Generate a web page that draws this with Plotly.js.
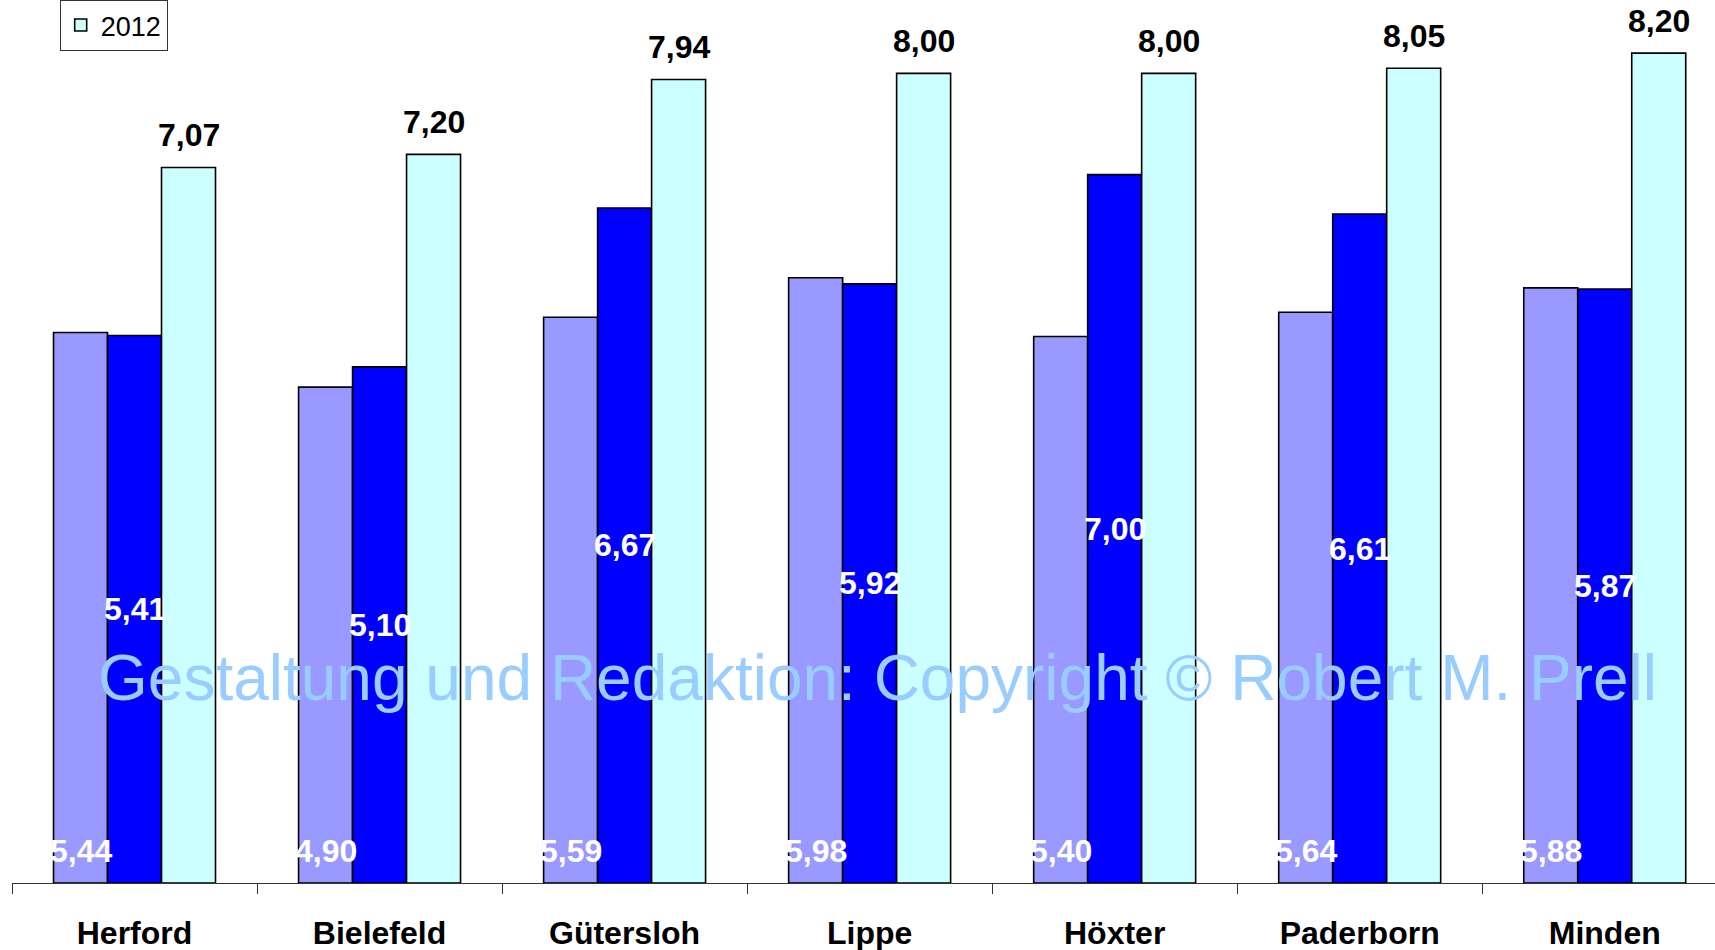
<!DOCTYPE html>
<html>
<head>
<meta charset="utf-8">
<script src="https://cdn.plot.ly/plotly-3.0.1.min.js"></script>
<style>html,body{margin:0;padding:0;background:#fff;}#chart{width:1715px;height:950px;}</style>
</head>
<body>
<div id="chart"></div>
<script>
const categories = ["Herford", "Bielefeld", "Gütersloh", "Lippe", "Höxter", "Paderborn", "Minden"];
const seriesNames = ["Reihe 1", "Reihe 2", "2012"];
const values1 = [5.44, 4.90, 5.59, 5.98, 5.40, 5.64, 5.88];
const values2 = [5.41, 5.10, 6.67, 5.92, 7.00, 6.61, 5.87];
const values3 = [7.07, 7.20, 7.94, 8.00, 8.00, 8.05, 8.20];
const watermark = "Gestaltung und Redaktion: Copyright © Robert M. Prell";

const colors = ["#9999ff", "#0000ff", "#ccffff"];
const FONT = "Liberation Sans, Arial, sans-serif";
const bargap = 0.339;
const w = (1 - bargap) / 3;
const fmt = v => v.toFixed(2).replace('.', ',');

const allValues = [values1, values2, values3];
const traces = allValues.map((vals, k) => ({
  type: 'bar',
  name: seriesNames[k],
  x: categories,
  y: vals,
  marker: {color: colors[k], line: {color: '#000', width: 1.6}},
  showlegend: k === 2,
  hovertemplate: '%{x}: %{y:.2f}<extra>' + seriesNames[k] + '</extra>'
}));

const LBL = 32;
const annotations = [];
categories.forEach((c, i) => {
  annotations.push({x: i - w, y: 0, xref: 'x', yref: 'y', text: fmt(values1[i]), showarrow: false,
    yanchor: 'middle', yshift: 32, font: {family: FONT, size: LBL, color: '#fff', weight: 'bold'}});
  annotations.push({x: i, y: values2[i] / 2, xref: 'x', yref: 'y', text: fmt(values2[i]), showarrow: false,
    yanchor: 'middle', yshift: 0, font: {family: FONT, size: LBL, color: '#fff', weight: 'bold'}});
  annotations.push({x: i + w, y: values3[i], xref: 'x', yref: 'y', text: fmt(values3[i]), showarrow: false,
    yanchor: 'middle', yshift: 32, font: {family: FONT, size: LBL, color: '#000', weight: 'bold'}});
});
annotations.push({x: 0.508, y: 0.232, xref: 'paper', yref: 'paper', text: watermark, showarrow: false,
  xanchor: 'center', yanchor: 'middle', font: {family: FONT, size: 64, color: '#99ccff'}});

const layout = {
  width: 1715, height: 950,
  margin: {l: 12, r: 0, t: 0, b: 67, pad: 0},
  paper_bgcolor: '#fff', plot_bgcolor: '#fff',
  barmode: 'group', bargap: bargap, bargroupgap: 0,
  separators: ',.',
  font: {family: FONT, color: '#000'},
  xaxis: {
    type: 'category', categoryorder: 'array', categoryarray: categories,
    range: [-0.5, 6.45], tickson: 'boundaries', ticks: 'outside', ticklen: 10, tickcolor: '#333', tickwidth: 1,
    showline: true, linecolor: '#333', linewidth: 1, showgrid: false, zeroline: false,
    tickfont: {family: FONT, size: 32, color: '#000', weight: 'bold'}, ticklabelstandoff: 22, fixedrange: true,
    automargin: false
  },
  yaxis: {visible: false, range: [0, 8.725], fixedrange: true, showgrid: false, zeroline: false, automargin: false},
  legend: {x: 0.028, y: 1, xanchor: 'left', yanchor: 'top',
    bgcolor: '#fff', bordercolor: '#333', borderwidth: 1,
    font: {family: FONT, size: 27, color: '#000'}, itemwidth: 30},
  annotations: annotations
};

Plotly.newPlot('chart', traces, layout, {displayModeBar: false});
</script>
</body>
</html>
